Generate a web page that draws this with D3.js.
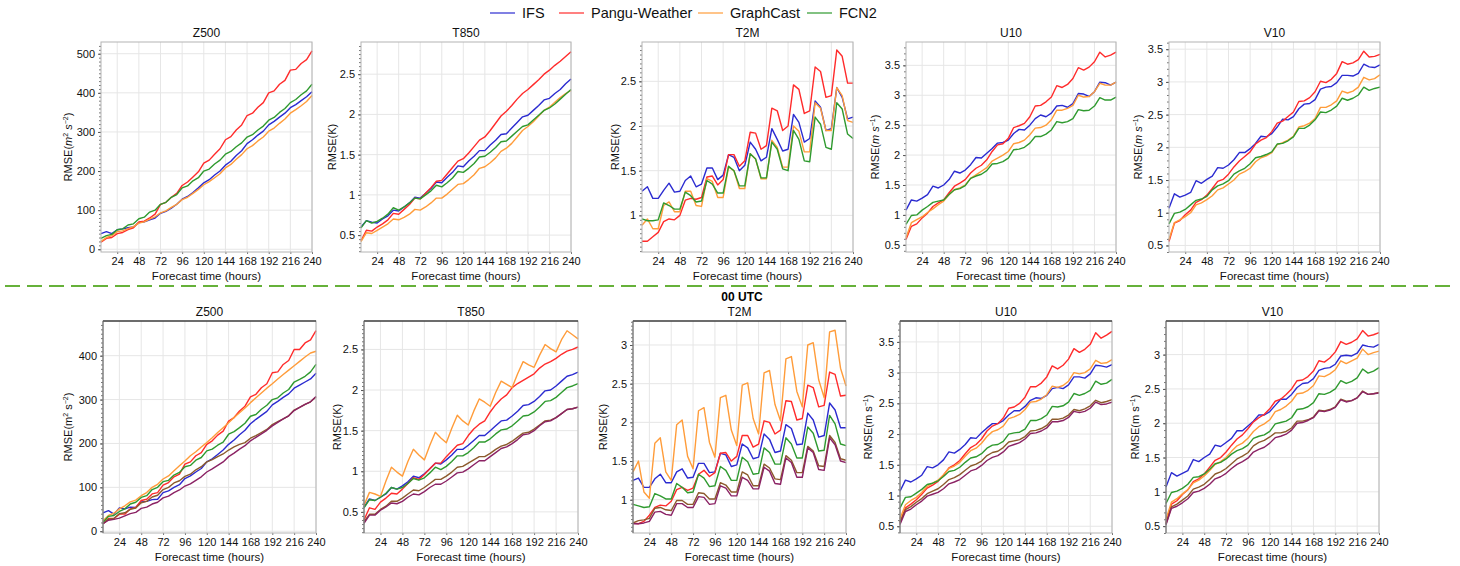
<!DOCTYPE html>
<html>
<head>
<meta charset="utf-8">
<script src="https://cdn.jsdelivr.net/npm/d3@7"></script>
<style>
  body { margin: 0; background: #fff; }
  svg { font-family: "Liberation Sans", Arial, Helvetica, sans-serif; }
</style>
</head>
<body>
<svg id="chart" width="1460" height="566"></svg>
<script>
// forecast lead times (hours)
const hours = [6,12,18,24,30,36,42,48,54,60,66,72,78,84,90,96,102,108,114,120,
               126,132,138,144,150,156,162,168,174,180,186,192,198,204,210,216,222,228,234,240];
const xTicks = [24,48,72,96,120,144,168,192,216,240];
const models = ["IFS", "Pangu-Weather", "GraphCast", "FCN2"];
const colors = ["#2b2bd0", "#ff2b2b", "#ff9c3a", "#2f9a2f", "#8c5a2c", "#8b2264"];

// ---- top row ----
const topZ500_ifs = [40,45,40,50,52,55,57,68,70,75,80,92,97,105,115,128,135,145,157,170,178,190,200,215,225,240,252,270,280,292,302,318,327,338,348,362,370,380,390,403];
const topZ500_pangu = [18,28,30,40,43,50,55,70,72,80,90,115,120,133,143,163,172,185,198,220,228,243,257,280,288,305,318,342,348,363,375,400,405,422,432,458,460,475,485,507];
const topZ500_graphcast = [20,30,35,45,47,53,58,67,70,77,83,93,98,107,115,127,133,143,153,165,173,183,193,208,217,230,242,257,265,277,287,302,310,322,333,348,357,367,378,393];
const topZ500_fcn2 = [28,35,38,50,52,62,65,78,82,95,100,115,120,133,140,157,162,175,183,200,205,218,228,243,250,262,272,287,293,305,315,330,337,350,360,375,383,395,405,422];

const topT850_ifs = [0.60,0.68,0.66,0.65,0.70,0.74,0.81,0.80,0.85,0.90,0.97,0.96,1.02,1.08,1.16,1.15,1.22,1.28,1.36,1.35,1.42,1.48,1.55,1.55,1.62,1.68,1.75,1.76,1.83,1.90,1.97,1.99,2.05,2.11,2.18,2.20,2.26,2.31,2.38,2.44];
const topT850_pangu = [0.43,0.56,0.55,0.60,0.64,0.69,0.77,0.76,0.82,0.88,0.96,0.95,1.02,1.09,1.17,1.18,1.26,1.34,1.42,1.45,1.52,1.60,1.68,1.72,1.80,1.89,1.98,2.04,2.11,2.19,2.26,2.31,2.37,2.43,2.50,2.55,2.61,2.66,2.72,2.78];
const topT850_graphcast = [0.42,0.53,0.52,0.56,0.60,0.64,0.70,0.69,0.72,0.76,0.82,0.81,0.85,0.90,0.96,0.96,1.01,1.07,1.13,1.14,1.19,1.25,1.33,1.35,1.40,1.46,1.54,1.58,1.64,1.72,1.80,1.85,1.91,1.98,2.05,2.09,2.15,2.21,2.26,2.30];
const topT850_fcn2 = [0.59,0.68,0.65,0.67,0.71,0.76,0.84,0.81,0.85,0.90,0.96,0.95,1.00,1.05,1.12,1.10,1.15,1.21,1.29,1.28,1.33,1.39,1.47,1.48,1.53,1.59,1.66,1.67,1.73,1.79,1.85,1.87,1.93,1.99,2.05,2.08,2.13,2.19,2.25,2.31];

const topT2M_ifs = [1.27,1.32,1.19,1.19,1.28,1.36,1.26,1.27,1.39,1.44,1.32,1.35,1.53,1.53,1.40,1.45,1.68,1.65,1.50,1.56,1.82,1.74,1.61,1.65,1.97,1.85,1.72,1.74,2.13,2.04,1.82,1.86,2.28,2.21,1.95,1.97,2.43,2.32,2.08,2.10];
const topT2M_pangu = [0.71,0.71,0.76,0.81,0.93,0.96,0.95,1.00,1.17,1.19,1.18,1.20,1.43,1.44,1.34,1.40,1.68,1.68,1.55,1.61,1.93,1.92,1.74,1.78,2.20,2.17,1.95,2.00,2.46,2.41,2.14,2.17,2.66,2.61,2.32,2.34,2.85,2.78,2.48,2.48];
const topT2M_graphcast = [0.89,0.96,0.85,0.85,1.11,1.15,1.04,1.04,1.27,1.27,1.11,1.10,1.41,1.38,1.20,1.20,1.54,1.50,1.30,1.30,1.69,1.63,1.41,1.41,1.84,1.76,1.54,1.54,2.00,1.94,1.71,1.71,2.26,2.20,1.95,1.95,2.43,2.34,2.06,2.04];
const topT2M_fcn2 = [0.96,0.94,0.94,0.95,1.14,1.11,1.07,1.07,1.26,1.22,1.15,1.16,1.39,1.35,1.25,1.25,1.55,1.50,1.33,1.33,1.69,1.63,1.42,1.42,1.82,1.74,1.52,1.50,1.95,1.85,1.61,1.60,2.10,2.02,1.76,1.74,2.26,2.19,1.91,1.86];

const topU10_ifs = [1.08,1.25,1.23,1.28,1.34,1.48,1.45,1.50,1.59,1.73,1.70,1.75,1.84,1.96,1.95,2.03,2.11,2.20,2.21,2.25,2.36,2.43,2.42,2.50,2.61,2.67,2.64,2.70,2.82,2.83,2.80,2.86,3.03,3.02,2.98,3.06,3.22,3.21,3.17,3.22];
const topU10_pangu = [0.59,0.81,0.85,0.95,1.03,1.14,1.20,1.25,1.37,1.48,1.53,1.59,1.70,1.78,1.83,1.92,2.06,2.17,2.19,2.28,2.46,2.49,2.53,2.64,2.82,2.83,2.89,2.97,3.16,3.13,3.18,3.28,3.46,3.42,3.47,3.56,3.72,3.64,3.67,3.72];
const topU10_graphcast = [0.62,0.87,0.92,0.97,1.04,1.10,1.17,1.23,1.34,1.42,1.45,1.50,1.61,1.67,1.73,1.79,1.90,1.95,2.00,2.06,2.19,2.21,2.25,2.34,2.45,2.46,2.50,2.59,2.75,2.75,2.78,2.83,3.00,2.97,2.98,3.06,3.20,3.17,3.17,3.22];
const topU10_fcn2 = [0.84,0.99,1.00,1.08,1.14,1.21,1.23,1.25,1.34,1.42,1.44,1.49,1.61,1.65,1.68,1.74,1.85,1.86,1.89,1.95,2.09,2.10,2.13,2.20,2.31,2.31,2.35,2.42,2.56,2.54,2.56,2.61,2.76,2.74,2.75,2.82,2.96,2.92,2.92,2.97];

const topV10_ifs = [1.07,1.29,1.24,1.27,1.31,1.49,1.45,1.51,1.56,1.69,1.68,1.73,1.81,1.92,1.92,1.98,2.06,2.17,2.16,2.21,2.31,2.43,2.42,2.47,2.59,2.66,2.67,2.73,2.89,2.92,2.93,2.99,3.10,3.10,3.09,3.13,3.27,3.23,3.22,3.26];
const topV10_pangu = [0.56,0.84,0.88,0.97,1.04,1.16,1.20,1.27,1.37,1.48,1.51,1.59,1.70,1.79,1.86,1.93,2.05,2.11,2.15,2.24,2.37,2.40,2.47,2.54,2.70,2.71,2.76,2.85,3.01,2.99,3.04,3.13,3.31,3.27,3.29,3.34,3.47,3.38,3.39,3.42];
const topV10_graphcast = [0.59,0.85,0.89,0.94,1.00,1.12,1.15,1.20,1.26,1.35,1.38,1.44,1.50,1.59,1.63,1.68,1.78,1.84,1.87,1.92,2.04,2.07,2.11,2.17,2.31,2.33,2.37,2.44,2.61,2.61,2.65,2.71,2.86,2.83,2.86,2.92,3.07,3.03,3.05,3.11];
const topV10_fcn2 = [0.83,0.99,1.01,1.05,1.12,1.19,1.21,1.25,1.35,1.41,1.44,1.49,1.59,1.64,1.68,1.75,1.84,1.86,1.89,1.93,2.05,2.06,2.10,2.16,2.29,2.29,2.34,2.42,2.54,2.53,2.57,2.63,2.75,2.72,2.75,2.80,2.92,2.87,2.90,2.92];

// ---- bottom row (00 UTC) ----
const botZ500_ifs = [42,47,39,53,51,55,54,67,68,72,73,88,92,100,106,120,126,135,143,158,165,175,185,198,208,220,230,245,255,264,273,288,296,305,313,326,333,340,347,360];
const botZ500_pangu = [17,29,29,39,39,51,54,70,73,85,88,105,111,124,130,153,158,172,179,198,206,219,228,251,259,274,285,306,312,327,336,361,363,380,389,414,414,429,436,457];
const botZ500_graphcast = [24,36,41,51,58,67,71,81,88,100,107,119,126,138,149,160,172,181,192,202,213,225,236,247,259,270,281,293,304,315,326,336,347,357,367,377,387,397,406,410];
const botZ500_fcn2 = [20,34,36,45,51,62,66,77,81,95,100,113,116,128,134,147,150,162,168,183,187,196,203,221,227,236,246,262,266,278,287,300,304,315,323,340,346,353,363,380];
const botZ500_m5 = [17,27,29,40,42,50,53,65,68,78,82,95,100,110,115,125,130,140,147,158,163,170,176,185,192,198,202,212,218,225,232,243,250,256,263,276,282,289,295,306];
const botZ500_m6 = [17,25,27,30,35,40,43,52,55,62,66,76,80,88,94,103,108,116,124,135,142,150,158,170,178,187,195,206,214,222,230,240,248,256,263,275,282,289,295,307];

const botT850_ifs = [0.56,0.66,0.64,0.68,0.72,0.80,0.78,0.82,0.87,0.94,0.92,0.97,1.03,1.10,1.09,1.14,1.20,1.27,1.27,1.32,1.38,1.44,1.44,1.50,1.56,1.62,1.63,1.68,1.74,1.81,1.82,1.86,1.92,1.99,2.00,2.05,2.11,2.17,2.19,2.22];
const botT850_pangu = [0.40,0.55,0.53,0.62,0.67,0.73,0.72,0.78,0.85,0.92,0.90,0.96,1.03,1.10,1.10,1.18,1.25,1.32,1.34,1.44,1.52,1.58,1.62,1.73,1.82,1.89,1.94,2.03,2.08,2.12,2.16,2.20,2.27,2.32,2.35,2.39,2.44,2.48,2.50,2.53];
const botT850_graphcast = [0.58,0.74,0.72,0.69,0.88,1.05,0.99,0.94,1.12,1.27,1.20,1.14,1.32,1.48,1.41,1.35,1.53,1.69,1.62,1.57,1.74,1.89,1.85,1.80,1.97,2.11,2.07,2.03,2.20,2.35,2.31,2.28,2.43,2.56,2.51,2.47,2.62,2.73,2.68,2.63];
const botT850_fcn2 = [0.55,0.65,0.64,0.68,0.73,0.80,0.78,0.80,0.85,0.91,0.89,0.92,0.98,1.05,1.02,1.06,1.12,1.19,1.19,1.23,1.29,1.36,1.36,1.40,1.46,1.51,1.52,1.56,1.62,1.68,1.69,1.73,1.79,1.86,1.87,1.91,1.97,2.03,2.05,2.08];
const botT850_m5 = [0.38,0.47,0.47,0.53,0.57,0.63,0.63,0.67,0.72,0.77,0.76,0.80,0.85,0.90,0.90,0.94,0.99,1.05,1.06,1.10,1.14,1.18,1.18,1.22,1.27,1.31,1.33,1.37,1.42,1.47,1.48,1.52,1.57,1.62,1.63,1.66,1.71,1.76,1.77,1.79];
const botT850_m6 = [0.36,0.46,0.46,0.52,0.56,0.61,0.60,0.63,0.68,0.72,0.71,0.75,0.80,0.84,0.84,0.88,0.93,0.98,0.99,1.03,1.08,1.13,1.13,1.18,1.23,1.28,1.30,1.34,1.39,1.45,1.46,1.50,1.56,1.61,1.62,1.66,1.71,1.76,1.77,1.79];

const botT2M_ifs = [1.25,1.28,1.16,1.16,1.27,1.33,1.22,1.22,1.36,1.40,1.28,1.29,1.47,1.47,1.35,1.36,1.60,1.58,1.43,1.45,1.72,1.67,1.53,1.55,1.85,1.78,1.61,1.63,1.97,1.92,1.71,1.72,2.12,2.03,1.81,1.83,2.25,2.16,1.93,1.93];
const botT2M_pangu = [0.70,0.69,0.72,0.80,0.90,0.93,0.92,0.98,1.13,1.16,1.12,1.15,1.33,1.38,1.30,1.35,1.60,1.61,1.50,1.56,1.83,1.83,1.68,1.72,2.02,2.00,1.85,1.90,2.28,2.27,2.03,2.05,2.48,2.45,2.20,2.22,2.65,2.62,2.34,2.35];
const botT2M_graphcast = [1.36,1.50,1.10,1.02,1.73,1.80,1.36,1.25,1.97,2.03,1.56,1.40,2.15,2.19,1.74,1.55,2.32,2.35,1.90,1.70,2.48,2.51,2.05,1.85,2.64,2.67,2.23,2.02,2.82,2.85,2.40,2.20,3.00,3.03,2.55,2.32,3.17,3.19,2.70,2.47];
const botT2M_fcn2 = [0.94,0.92,0.90,0.91,1.08,1.05,1.01,1.01,1.21,1.16,1.09,1.10,1.33,1.28,1.17,1.18,1.43,1.38,1.25,1.25,1.55,1.49,1.33,1.34,1.67,1.61,1.46,1.46,1.80,1.72,1.54,1.54,1.94,1.86,1.63,1.64,2.09,1.98,1.72,1.70];
const botT2M_m5 = [0.70,0.73,0.74,0.76,0.89,0.90,0.87,0.86,0.99,0.99,0.94,0.94,1.09,1.08,1.01,1.01,1.22,1.19,1.10,1.10,1.36,1.32,1.18,1.18,1.46,1.41,1.27,1.26,1.57,1.51,1.35,1.35,1.69,1.63,1.44,1.43,1.83,1.74,1.53,1.51];
const botT2M_m6 = [0.69,0.69,0.70,0.72,0.84,0.85,0.81,0.80,0.95,0.95,0.90,0.90,1.04,1.03,0.94,0.95,1.18,1.15,1.05,1.05,1.29,1.25,1.14,1.14,1.42,1.37,1.21,1.20,1.54,1.48,1.29,1.29,1.67,1.61,1.39,1.38,1.80,1.71,1.50,1.48];

const botU10_ifs = [1.07,1.25,1.22,1.27,1.33,1.47,1.45,1.50,1.58,1.71,1.69,1.75,1.83,1.94,1.93,2.02,2.10,2.17,2.17,2.22,2.31,2.38,2.38,2.45,2.55,2.59,2.58,2.63,2.74,2.76,2.74,2.80,2.93,2.93,2.91,2.98,3.12,3.11,3.09,3.13];
const botU10_pangu = [0.56,0.80,0.86,0.93,1.02,1.12,1.17,1.23,1.33,1.45,1.50,1.57,1.68,1.78,1.83,1.92,2.05,2.13,2.17,2.26,2.42,2.44,2.50,2.60,2.77,2.77,2.83,2.93,3.11,3.06,3.12,3.22,3.39,3.33,3.38,3.46,3.65,3.56,3.61,3.67];
const botU10_graphcast = [0.62,0.85,0.92,0.97,1.05,1.15,1.20,1.25,1.34,1.44,1.48,1.54,1.64,1.73,1.77,1.85,1.96,2.04,2.07,2.13,2.25,2.28,2.32,2.40,2.52,2.53,2.57,2.64,2.78,2.76,2.79,2.86,3.00,2.98,3.00,3.06,3.20,3.15,3.16,3.21];
const botU10_fcn2 = [0.80,0.97,0.98,1.04,1.10,1.18,1.20,1.24,1.31,1.39,1.41,1.46,1.54,1.61,1.63,1.68,1.77,1.82,1.83,1.88,2.00,2.02,2.03,2.08,2.22,2.22,2.25,2.31,2.45,2.44,2.46,2.52,2.66,2.63,2.66,2.71,2.86,2.81,2.83,2.89];
const botU10_m5 = [0.56,0.77,0.82,0.89,0.95,1.03,1.07,1.11,1.18,1.26,1.29,1.34,1.41,1.48,1.51,1.56,1.65,1.70,1.72,1.78,1.87,1.89,1.91,1.96,2.05,2.06,2.09,2.14,2.24,2.24,2.26,2.31,2.40,2.38,2.41,2.46,2.55,2.51,2.53,2.56];
const botU10_m6 = [0.53,0.74,0.78,0.85,0.91,0.99,1.02,1.05,1.11,1.19,1.22,1.26,1.33,1.40,1.43,1.49,1.57,1.62,1.65,1.71,1.80,1.83,1.86,1.92,2.01,2.02,2.05,2.10,2.20,2.20,2.22,2.27,2.37,2.35,2.37,2.42,2.52,2.48,2.49,2.52];

const botV10_ifs = [1.07,1.28,1.23,1.27,1.31,1.47,1.44,1.50,1.55,1.68,1.66,1.72,1.78,1.89,1.89,1.96,2.03,2.12,2.12,2.17,2.26,2.35,2.35,2.42,2.52,2.58,2.59,2.65,2.77,2.80,2.81,2.86,2.98,2.99,2.98,3.02,3.14,3.12,3.11,3.15];
const botV10_pangu = [0.55,0.82,0.87,0.96,1.03,1.15,1.19,1.26,1.36,1.46,1.50,1.58,1.68,1.77,1.83,1.92,2.02,2.08,2.13,2.21,2.32,2.35,2.42,2.50,2.62,2.63,2.68,2.76,2.91,2.89,2.95,3.04,3.19,3.15,3.18,3.23,3.35,3.27,3.29,3.32];
const botV10_graphcast = [0.60,0.85,0.90,0.97,1.03,1.13,1.17,1.23,1.31,1.40,1.44,1.50,1.59,1.67,1.71,1.78,1.88,1.95,1.99,2.05,2.17,2.20,2.25,2.32,2.43,2.44,2.48,2.55,2.69,2.68,2.72,2.78,2.91,2.87,2.91,2.95,3.08,3.00,3.03,3.05];
const botV10_fcn2 = [0.83,0.99,1.01,1.05,1.11,1.21,1.22,1.26,1.33,1.41,1.43,1.48,1.55,1.60,1.63,1.68,1.78,1.81,1.83,1.88,1.99,2.01,2.03,2.08,2.20,2.21,2.24,2.30,2.43,2.42,2.45,2.50,2.62,2.58,2.61,2.66,2.79,2.73,2.76,2.81];
const botV10_m5 = [0.53,0.78,0.82,0.88,0.94,1.04,1.07,1.11,1.18,1.26,1.29,1.34,1.41,1.48,1.52,1.57,1.67,1.72,1.75,1.80,1.86,1.86,1.88,1.93,2.03,2.03,2.05,2.09,2.19,2.18,2.20,2.24,2.35,2.32,2.33,2.37,2.47,2.42,2.43,2.45];
const botV10_m6 = [0.52,0.76,0.79,0.84,0.90,0.99,1.01,1.05,1.11,1.19,1.22,1.27,1.34,1.40,1.44,1.49,1.58,1.62,1.65,1.71,1.79,1.81,1.84,1.90,2.00,2.01,2.04,2.08,2.18,2.17,2.19,2.23,2.34,2.31,2.33,2.37,2.46,2.42,2.43,2.44];

// panel table built from the arrays above
const panels = [
  {title:"Z500", unit:"z", italic:true,  row:0, x:101, w:211, dom:[-7,530],    ticks:[0,100,200,300,400,500], minor:10,
   series:[topZ500_ifs, topZ500_pangu, topZ500_graphcast, topZ500_fcn2], yl:68},
  {title:"T850", unit:"K", italic:false, row:0, x:361, w:210, dom:[0.29,2.9],  ticks:[0.5,1,1.5,2,2.5], minor:0.05,
   series:[topT850_ifs, topT850_pangu, topT850_graphcast, topT850_fcn2], yl:332},
  {title:"T2M",  unit:"K", italic:false, row:0, x:642, w:211, dom:[0.59,2.94], ticks:[1,1.5,2,2.5], minor:0.05,
   series:[topT2M_ifs, topT2M_pangu, topT2M_graphcast, topT2M_fcn2], yl:615},
  {title:"U10",  unit:"w", italic:true,  row:0, x:906, w:210, dom:[0.38,3.89], ticks:[0.5,1,1.5,2,2.5,3,3.5], minor:0.1,
   series:[topU10_ifs, topU10_pangu, topU10_graphcast, topU10_fcn2], yl:875},
  {title:"V10",  unit:"w", italic:true,  row:0, x:1169, w:211, dom:[0.40,3.61], ticks:[0.5,1,1.5,2,2.5,3,3.5], minor:0.1,
   series:[topV10_ifs, topV10_pangu, topV10_graphcast, topV10_fcn2], yl:1138},
  {title:"Z500", unit:"z", italic:false, row:1, x:103, w:213, dom:[-4,479],    ticks:[0,100,200,300,400], minor:10,
   series:[botZ500_ifs, botZ500_pangu, botZ500_graphcast, botZ500_fcn2, botZ500_m5, botZ500_m6], yl:68},
  {title:"T850", unit:"K", italic:false, row:1, x:364, w:214, dom:[0.24,2.85], ticks:[0.5,1,1.5,2,2.5], minor:0.05,
   series:[botT850_ifs, botT850_pangu, botT850_graphcast, botT850_fcn2, botT850_m5, botT850_m6], yl:337},
  {title:"T2M",  unit:"K", italic:false, row:1, x:633, w:213, dom:[0.57,3.31], ticks:[1,1.5,2,2.5,3], minor:0.05,
   series:[botT2M_ifs, botT2M_pangu, botT2M_graphcast, botT2M_fcn2, botT2M_m5, botT2M_m6], yl:603},
  {title:"U10",  unit:"w", italic:false, row:1, x:900, w:212, dom:[0.39,3.84], ticks:[0.5,1,1.5,2,2.5,3,3.5], minor:0.1,
   series:[botU10_ifs, botU10_pangu, botU10_graphcast, botU10_fcn2, botU10_m5, botU10_m6], yl:868},
  {title:"V10",  unit:"w", italic:false, row:1, x:1166, w:213, dom:[0.40,3.49], ticks:[0.5,1,1.5,2,2.5,3], minor:0.1,
   series:[botV10_ifs, botV10_pangu, botV10_graphcast, botV10_fcn2, botV10_m5, botV10_m6], yl:1135}
];

const rows = [{y:42, h:210}, {y:321, h:212}];
const svg = d3.select("#chart");

// legend
const legendX = [490, 559, 698, 807];
const legend = svg.append("g");
models.forEach((m, i) => {
  legend.append("line")
    .attr("x1", legendX[i]).attr("x2", legendX[i] + 25)
    .attr("y1", 13).attr("y2", 13)
    .attr("stroke", colors[i]).attr("stroke-opacity", 0.6).attr("stroke-width", 2);
  legend.append("text")
    .attr("x", legendX[i] + 32).attr("y", 13).attr("dy", "0.35em")
    .attr("font-size", "14.5px").attr("fill", "#111")
    .text(m);
});

// dashed separator + 00 UTC heading
svg.append("line")
  .attr("x1", 5).attr("x2", 1456).attr("y1", 286).attr("y2", 286)
  .attr("stroke", "#66b13a").attr("stroke-width", 2.2)
  .attr("stroke-dasharray", "15,7");
svg.append("text")
  .attr("x", 742).attr("y", 301)
  .attr("text-anchor", "middle").attr("font-size", "12px").attr("font-weight", "bold")
  .text("00 UTC");

function yLabel(g, p, cx, cy) {
  const t = g.append("text")
    .attr("transform", `translate(${cx},${cy}) rotate(-90)`)
    .attr("text-anchor", "middle").attr("font-size", "11px").attr("fill", "#111");
  const it = p.italic ? "italic" : "normal";
  t.append("tspan").text("RMSE(");
  if (p.unit === "K") {
    t.append("tspan").text("K)");
  } else {
    t.append("tspan").attr("font-style", it).text("m");
    if (p.unit === "z") t.append("tspan").attr("font-size", "7px").attr("dy", -4).text("2");
    t.append("tspan").attr("font-style", it).attr("dy", p.unit === "z" ? 4 : 0).text(" s");
    t.append("tspan").attr("font-size", "7px").attr("dy", -4).text(p.unit === "z" ? "−2" : "−1");
    t.append("tspan").attr("dy", 4).text(")");
  }
}

panels.forEach(p => {
  const r = rows[p.row];
  const x = d3.scaleLinear().domain([6, 240]).range([p.x, p.x + p.w]);
  const y = d3.scaleLinear().domain(p.dom).range([r.y + r.h, r.y]);
  const g = svg.append("g");

  // grid
  g.selectAll(".gx").data(xTicks).enter().append("line")
    .attr("x1", d => x(d)).attr("x2", d => x(d))
    .attr("y1", r.y).attr("y2", r.y + r.h)
    .attr("stroke", "#e6e6e6").attr("stroke-width", 1);
  g.selectAll(".gy").data(p.ticks).enter().append("line")
    .attr("x1", p.x).attr("x2", p.x + p.w)
    .attr("y1", d => y(d)).attr("y2", d => y(d))
    .attr("stroke", "#e6e6e6").attr("stroke-width", 1);

  // y axis (major + minor ticks)
  const minorTicks = d3.range(Math.ceil(p.dom[0] / p.minor) * p.minor, p.dom[1], p.minor);
  g.append("g")
    .attr("transform", `translate(${p.x},0)`)
    .call(d3.axisLeft(y).tickValues(minorTicks).tickSize(2).tickFormat(""))
    .call(a => a.select(".domain").remove())
    .call(a => a.selectAll("line").attr("stroke", "#777"));
  g.append("g")
    .attr("transform", `translate(${p.x},0)`)
    .call(d3.axisLeft(y).tickValues(p.ticks).tickSize(3).tickPadding(3).tickFormat(d => String(d)))
    .call(a => a.select(".domain").remove())
    .call(a => a.selectAll("line").attr("stroke", "#555"))
    .call(a => a.selectAll("text").attr("font-size", "11px").attr("fill", "#111")
      .attr("font-family", "Liberation Sans, Arial, sans-serif"));

  // x axis
  g.append("g")
    .attr("transform", `translate(0,${r.y + r.h})`)
    .call(d3.axisBottom(x).tickValues(xTicks).tickSize(2).tickPadding(3))
    .call(a => a.select(".domain").remove())
    .call(a => a.selectAll("line").attr("stroke", "#777"))
    .call(a => a.selectAll("text").attr("font-size", "11px").attr("fill", "#111")
      .attr("font-family", "Liberation Sans, Arial, sans-serif"));

  // lines
  const line = d3.line().x((d, i) => x(hours[i])).y(d => y(d));
  p.series.forEach((s, i) => {
    g.append("path").datum(s)
      .attr("fill", "none").attr("stroke", colors[i])
      .attr("stroke-width", 1.4).attr("stroke-linejoin", "round")
      .attr("d", line);
  });

  // frame
  const frameCol = "#b4b4b4";
  g.append("rect")
    .attr("x", p.x).attr("y", r.y).attr("width", p.w).attr("height", r.h)
    .attr("fill", "none").attr("stroke", frameCol).attr("stroke-width", 1);
  if (p.row === 1) {
    g.append("line").attr("x1", p.x).attr("x2", p.x + p.w).attr("y1", r.y).attr("y2", r.y)
      .attr("stroke", "#000").attr("stroke-width", 1.2);
    g.append("line").attr("x1", p.x).attr("x2", p.x).attr("y1", r.y).attr("y2", r.y + r.h)
      .attr("stroke", "#666").attr("stroke-width", 1);
  }

  // titles and labels
  g.append("text")
    .attr("x", p.x + p.w / 2).attr("y", r.y - 5)
    .attr("text-anchor", "middle").attr("font-size", "12px").attr("fill", "#111")
    .text(p.title);
  g.append("text")
    .attr("x", p.x + p.w / 2).attr("y", r.y + r.h + 28)
    .attr("text-anchor", "middle").attr("font-size", "11.5px").attr("fill", "#111")
    .text("Forecast time (hours)");
  yLabel(g, p, p.yl + 4, r.y + r.h / 2);
});
</script>
</body>
</html>
